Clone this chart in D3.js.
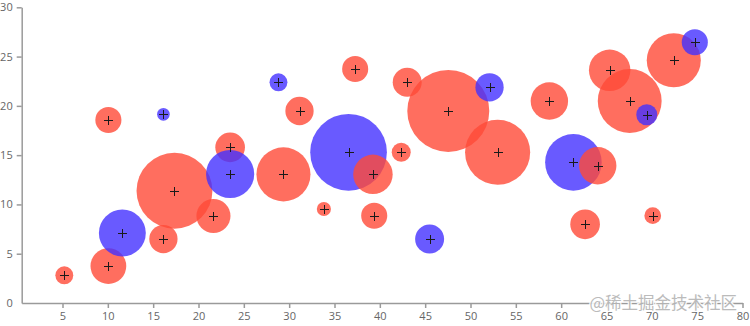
<!DOCTYPE html>
<html>
<head>
<meta charset="utf-8">
<script src="https://cdn.jsdelivr.net/npm/d3@7/dist/d3.min.js"></script>
<style>
  html, body { margin: 0; padding: 0; background: #fff; }
  svg { display: block; }
  .axis text { font-family: "Open Sans", "Noto Sans", sans-serif; font-size: 11px; fill: #666; }
  .axis path, .axis line { stroke: #9a9a9a; stroke-width: 1.5; }
</style>
</head>
<body>
<svg id="chart" width="750" height="326"></svg>
<script>
// Series A (red bubbles): x, y and bubble size
const redX = [5.2, 10.06, 10.06, 16.13, 17.35, 21.65, 23.49, 29.37, 31.14, 33.83, 37.28, 39.24,
              39.38, 42.36, 43.02, 47.55, 52.99, 58.7, 62.64, 64.03, 65.35, 67.56, 70.1, 72.42];
const redY = [2.81, 3.75, 18.57, 6.49, 11.39, 8.83, 15.79, 13.05, 19.48, 9.54, 23.74, 13.05,
              8.86, 15.29, 22.39, 19.48, 15.29, 20.49, 7.98, 13.93, 23.61, 20.49, 8.86, 24.62];
const redZ = [8, 32, 17, 20, 144, 29, 22, 73, 20, 5, 17, 39,
              17, 9, 21, 168, 106, 35, 22, 35, 43, 102, 7, 73];

// Series B (blue bubbles)
const blueX = [11.6, 16.13, 23.49, 28.82, 36.55, 45.49, 52.1, 61.35, 69.44, 74.74];
const blueY = [7.1, 19.14, 13.09, 22.39, 15.29, 6.49, 21.88, 14.27, 19.1, 26.45];
const blueZ = [55, 4, 58, 8, 147, 21, 20, 80, 11, 17];

// Axis ticks
const xTicks = [5, 10, 15, 20, 25, 30, 35, 40, 45, 50, 55, 60, 65, 70, 75, 80];
const yTicks = [0, 5, 10, 15, 20, 25, 30];

const watermark = "@稀土掘金技术社区";

const svg = d3.select("#chart");

const x = d3.scaleLinear().domain([0.5, 80]).range([21.7, 742.5]);
const y = d3.scaleLinear().domain([0, 30]).range([303, 7.3]);
const r = d3.scaleSqrt().domain([0, 170]).range([0, Math.sqrt(1700)]);

const color = { a: "#ff4a37", b: "#4331ff" };

const points = [];
redX.forEach((v, i) => points.push({ x: v, y: redY[i], z: redZ[i], s: "a" }));
blueX.forEach((v, i) => points.push({ x: v, y: blueY[i], z: blueZ[i], s: "b" }));
points.sort((p, q) => p.x - q.x || (p.s === "a" ? -1 : 1));

// Axes
svg.append("g")
  .attr("class", "axis")
  .attr("transform", `translate(0,${y(0)})`)
  .call(d3.axisBottom(x).tickValues(xTicks).tickSize(5).tickSizeOuter(0).tickPadding(4));

const gy = svg.append("g")
  .attr("class", "axis")
  .attr("transform", `translate(${x(0.5)},0)`)
  .call(d3.axisLeft(y).tickValues(yTicks).tickSize(5).tickSizeOuter(0).tickPadding(4));
gy.selectAll(".tick").filter(d => d === 0).select("line").remove();

// Bubbles
svg.append("g")
  .selectAll("circle")
  .data(points)
  .join("circle")
  .attr("cx", d => x(d.x))
  .attr("cy", d => y(d.y))
  .attr("r", d => r(d.z))
  .attr("fill", d => color[d.s])
  .attr("fill-opacity", 0.8);

// Center markers
const cross = svg.append("g")
  .attr("stroke", "#1a1a1a")
  .attr("stroke-width", 1)
  .selectAll("g")
  .data(points)
  .join("g")
  .attr("transform", d => `translate(${Math.round(x(d.x)) + 0.5},${Math.round(y(d.y)) + 0.5})`);
cross.append("line").attr("x1", -4.5).attr("x2", 4.5);
cross.append("line").attr("y1", -4.5).attr("y2", 4.5);

// Watermark
svg.append("text")
  .attr("x", 737)
  .attr("y", 309)
  .attr("text-anchor", "end")
  .attr("font-family", "'Noto Sans CJK SC', sans-serif")
  .attr("font-size", 16.5)
  .attr("fill", "#b4b4b4")
  .attr("stroke", "#fff")
  .attr("stroke-width", 2.5)
  .attr("paint-order", "stroke")
  .attr("opacity", 0.9)
  .text(watermark);
</script>
</body>
</html>
